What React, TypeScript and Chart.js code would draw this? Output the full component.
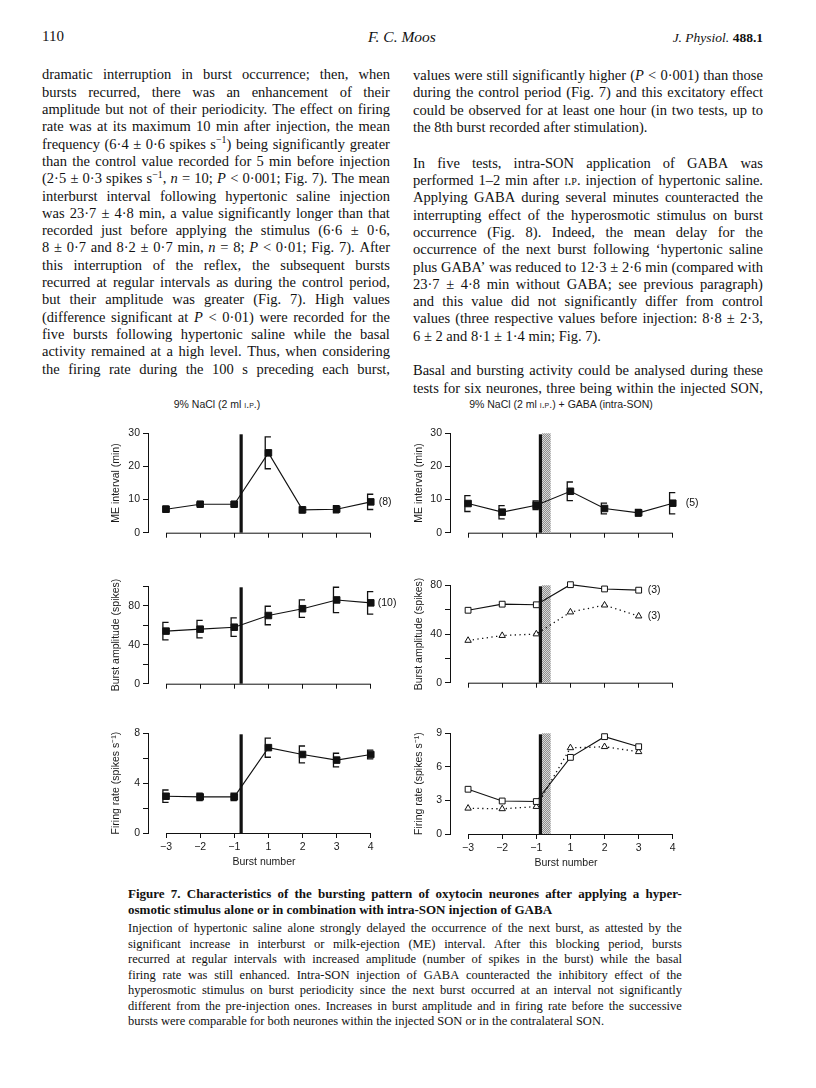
import React, { useEffect, useLayoutEffect, useRef } from 'react';
import { Chart, registerables } from 'chart.js';
Chart.register(...registerables);

const SERIF = '"Liberation Serif", "Times New Roman", serif';
const SANS = '"Liberation Sans", Arial, Helvetica, sans-serif';

// ---------------- chart data ----------------
const burstNumbers = ['−3', '−2', '−1', '1', '2', '3', '4'];

// 9% NaCl alone (left column of panels)
const meIntervalSaline = [7.1, 8.6, 8.6, 24.1, 6.9, 7.1, 9.3];
const meIntervalSalineErr = [0.9, 0.4, 0.8, 4.8, 0.9, 1.1, 2.3];
const burstAmpSaline = [54, 56, 58, 70, 77, 86, 83];
const burstAmpSalineErr = [9, 9, 9.5, 9.5, 9, 13, 11.5];
const firingSaline = [2.95, 2.9, 2.9, 6.85, 6.3, 5.85, 6.3];
const firingSalineErr = [0.5, 0.3, 0.3, 0.77, 0.68, 0.55, 0.35];

// 9% NaCl + GABA intra-SON (right column of panels)
const meIntervalGaba = [8.8, 6.2, 8.3, 12.5, 7.3, 6.0, 8.9];
const meIntervalGabaErr = [2.4, 2.0, 1.3, 2.8, 1.6, 1.0, 3.2];
const burstAmpGabaInjected = [59.5, 64.5, 64, 80.5, 77, 76];
const burstAmpGabaContra = [34.7, 38.7, 40, 58, 63.7, 54.7];
const firingGabaInjected = [4.0, 2.95, 2.9, 6.85, 8.7, 7.8];
const firingGabaContra = [2.3, 2.25, 2.45, 7.7, 7.8, 7.35];

// stimulus timing (in burst-index units, between −1 and 1)
const stimulusSaline = [2.2];
const stimulusGaba = [2.12];
const gabaApplication = [2.17, 2.42];

const yTicksME = [0, 10, 20, 30];
const yLabelsME = [0, 10, 20, 30];
const yTicksAmpSaline = [0, 20, 40, 60, 80, 100];
const yLabelsAmpSaline = [0, 40, 80];
const yTicksAmpGaba = [0, 20, 40, 60, 80];
const yLabelsAmpGaba = [0, 40, 80];
const yTicksRateSaline = [0, 2, 4, 6, 8];
const yLabelsRateSaline = [0, 4, 8];
const yTicksRateGaba = [0, 3, 6, 9];
const yLabelsRateGaba = [0, 3, 6, 9];

// ---------------- page text ----------------
const leftColumnLines = [
  'dramatic interruption in burst occurrence; then, when',
  'bursts recurred, there was an enhancement of their',
  'amplitude but not of their periodicity. The effect on firing',
  'rate was at its maximum 10 min after injection, the mean',
  'frequency (6·4 ± 0·6 spikes s^−1^) being significantly greater',
  'than the control value recorded for 5 min before injection',
  '(2·5 ± 0·3 spikes s^−1^, *n* = 10; *P* < 0·001; Fig. 7). The mean',
  'interburst interval following hypertonic saline injection',
  'was 23·7 ± 4·8 min, a value significantly longer than that',
  'recorded just before applying the stimulus (6·6 ± 0·6,',
  '8 ± 0·7 and 8·2 ± 0·7 min, *n* = 8; *P* < 0·01; Fig. 7). After',
  'this interruption of the reflex, the subsequent bursts',
  'recurred at regular intervals as during the control period,',
  'but their amplitude was greater (Fig. 7). High values',
  '(difference significant at *P* < 0·01) were recorded for the',
  'five bursts following hypertonic saline while the basal',
  'activity remained at a high level. Thus, when considering',
  'the firing rate during the 100 s preceding each burst,',
];

const rightColumnLines = [
  'values were still significantly higher (*P* < 0·001) than those',
  'during the control period (Fig. 7) and this excitatory effect',
  'could be observed for at least one hour (in two tests, up to',
  '|the 8th burst recorded after stimulation).',
  'In five tests, intra-SON application of GABA was',
  'performed 1–2 min after {i.p.} injection of hypertonic saline.',
  'Applying GABA during several minutes counteracted the',
  'interrupting effect of the hyperosmotic stimulus on burst',
  'occurrence (Fig. 8). Indeed, the mean delay for the',
  'occurrence of the next burst following ‘hypertonic saline',
  'plus GABA’ was reduced to 12·3 ± 2·6 min (compared with',
  '23·7 ± 4·8 min without GABA; see previous paragraph)',
  'and this value did not significantly differ from control',
  'values (three respective values before injection: 8·8 ± 2·3,',
  '|6 ± 2 and 8·1 ± 1·4 min; Fig. 7).',
  'Basal and bursting activity could be analysed during these',
  'tests for six neurones, three being within the injected SON,',
];

const captionTitleLines = [
  'Figure 7. Characteristics of the bursting pattern of oxytocin neurones after applying a hyper-',
  '|osmotic stimulus alone or in combination with intra-SON injection of GABA',
];

const captionBodyLines = [
  'Injection of hypertonic saline alone strongly delayed the occurrence of the next burst, as attested by the',
  'significant increase in interburst or milk-ejection (ME) interval. After this blocking period, bursts',
  'recurred at regular intervals with increased amplitude (number of spikes in the burst) while the basal',
  'firing rate was still enhanced. Intra-SON injection of GABA counteracted the inhibitory effect of the',
  'hyperosmotic stimulus on burst periodicity since the next burst occurred at an interval not significantly',
  'different from the pre-injection ones. Increases in burst amplitude and in firing rate before the successive',
  '|bursts were comparable for both neurones within the injected SON or in the contralateral SON.',
];

// ---------------- layout (positions only) ----------------
const leftLineY = leftColumnLines.map((_, i) => 76.7 + 17.3 * i);
const rightLineY = [77.3, 94.6, 111.9, 129.2, 165, 182.3, 199.6, 216.9, 234.2, 251.5, 268.8, 286.1, 303.4, 320.7, 338, 372.7, 390];
const captionTitleY = [895, 911];
const captionBodyY = [930, 945.5, 961, 976.5, 992, 1007.5, 1023];

type Marker = 'filledSquare' | 'openSquare' | 'triangle';
interface SeriesSpec { values: number[]; errors?: number[]; marker: Marker; dotted?: boolean; note?: string }
interface PanelSpec {
  yTitle: string; yMax: number; yTicks: number[]; yLabels: number[];
  series: SeriesSpec[]; stimulus: number; shade?: number[]; noteDx: number;
  showX: boolean;
  box: { x: number; y: number; w: number; h: number; yWidth: number };
}

const panels: PanelSpec[] = [
  {
    yTitle: 'ME interval (min)', yMax: 30, yTicks: yTicksME, yLabels: yLabelsME,
    series: [{ values: meIntervalSaline, errors: meIntervalSalineErr, marker: 'filledSquare', note: '(8)' }],
    stimulus: stimulusSaline[0], noteDx: 8, showX: false,
    box: { x: 106, y: 424, w: 304, h: 118, yWidth: 42 },
  },
  {
    yTitle: 'Burst amplitude (spikes)', yMax: 100, yTicks: yTicksAmpSaline, yLabels: yLabelsAmpSaline,
    series: [{ values: burstAmpSaline, errors: burstAmpSalineErr, marker: 'filledSquare', note: '(10)' }],
    stimulus: stimulusSaline[0], noteDx: 7, showX: false,
    box: { x: 106, y: 577, w: 304, h: 116, yWidth: 42 },
  },
  {
    yTitle: 'Firing rate (spikes s⁻¹)', yMax: 8, yTicks: yTicksRateSaline, yLabels: yLabelsRateSaline,
    series: [{ values: firingSaline, errors: firingSalineErr, marker: 'filledSquare' }],
    stimulus: stimulusSaline[0], noteDx: 8, showX: true,
    box: { x: 106, y: 724, w: 304, h: 144, yWidth: 42 },
  },
  {
    yTitle: 'ME interval (min)', yMax: 30, yTicks: yTicksME, yLabels: yLabelsME,
    series: [{ values: meIntervalGaba, errors: meIntervalGabaErr, marker: 'filledSquare', note: '(5)' }],
    stimulus: stimulusGaba[0], shade: gabaApplication, noteDx: 13, showX: false,
    box: { x: 409, y: 424, w: 303, h: 118, yWidth: 41 },
  },
  {
    yTitle: 'Burst amplitude (spikes)', yMax: 80, yTicks: yTicksAmpGaba, yLabels: yLabelsAmpGaba,
    series: [
      { values: burstAmpGabaInjected, marker: 'openSquare', note: '(3)' },
      { values: burstAmpGabaContra, marker: 'triangle', dotted: true, note: '(3)' },
    ],
    stimulus: stimulusGaba[0], shade: gabaApplication, noteDx: 9, showX: false,
    box: { x: 409, y: 576, w: 303, h: 116, yWidth: 41 },
  },
  {
    yTitle: 'Firing rate (spikes s⁻¹)', yMax: 9, yTicks: yTicksRateGaba, yLabels: yLabelsRateGaba,
    series: [
      { values: firingGabaInjected, marker: 'openSquare' },
      { values: firingGabaContra, marker: 'triangle', dotted: true },
    ],
    stimulus: stimulusGaba[0], shade: gabaApplication, noteDx: 9, showX: true,
    box: { x: 409, y: 724, w: 303, h: 145, yWidth: 41 },
  },
];

// ---------------- chart plugin ----------------
let shadePattern: CanvasPattern | null = null;
function getShade(ctx: CanvasRenderingContext2D) {
  if (!shadePattern) {
    const c = document.createElement('canvas');
    c.width = 2; c.height = 2;
    const g = c.getContext('2d')!;
    g.fillStyle = '#d8d8d8'; g.fillRect(0, 0, 2, 2);
    g.fillStyle = '#8e8e8e'; g.fillRect(0, 0, 1, 1); g.fillRect(1, 1, 1, 1);
    shadePattern = ctx.createPattern(c, 'repeat');
  }
  return shadePattern;
}

const figureMarks = {
  id: 'figureMarks',
  beforeDatasetsDraw(chart: any, _args: any, opts: any) {
    const { ctx, chartArea: a, scales: { x, y } } = chart;
    ctx.save();
    ctx.strokeStyle = '#111';
    ctx.lineWidth = 1;
    // x axis line from first to last burst
    ctx.beginPath();
    ctx.moveTo(x.getPixelForValue(0), a.bottom + 0.5);
    ctx.lineTo(x.getPixelForValue(burstNumbers.length - 1), a.bottom + 0.5);
    ctx.stroke();
    const bx = x.getPixelForValue(opts.stimulus);
    const bw = 3.2;
    if (opts.shade) {
      const s0 = bx + bw / 2;
      const s1 = x.getPixelForValue(opts.shade[1]);
      ctx.fillStyle = getShade(ctx);
      ctx.fillRect(s0, a.top, s1 - s0, a.bottom - a.top);
    }
    ctx.fillStyle = '#111';
    ctx.fillRect(bx - bw / 2, a.top + 1, bw, a.bottom - a.top - 1);
    // error brackets
    ctx.lineWidth = 1.3;
    chart.data.datasets.forEach((ds: any) => {
      if (!ds.errors) return;
      ds.data.forEach((p: any, i: number) => {
        const e = ds.errors[i];
        const cx = x.getPixelForValue(p.x);
        const y1 = y.getPixelForValue(p.y + e);
        const y2 = y.getPixelForValue(p.y - e);
        ctx.beginPath();
        ctx.moveTo(cx + 2.5, y1);
        ctx.lineTo(cx - 3.2, y1);
        ctx.lineTo(cx - 3.2, y2);
        ctx.lineTo(cx + 2.5, y2);
        ctx.stroke();
      });
    });
    ctx.restore();
  },
  afterDatasetsDraw(chart: any, _args: any, opts: any) {
    const { ctx, scales: { x, y } } = chart;
    ctx.save();
    ctx.fillStyle = '#111';
    ctx.font = `10.5px ${SANS}`;
    ctx.textAlign = 'left';
    ctx.textBaseline = 'middle';
    chart.data.datasets.forEach((ds: any) => {
      if (!ds.note) return;
      const last = ds.data[ds.data.length - 1];
      ctx.fillText(ds.note, x.getPixelForValue(last.x) + opts.noteDx, y.getPixelForValue(last.y));
    });
    ctx.restore();
  },
};

function makeConfig(p: PanelSpec): any {
  const font = { family: SANS, size: 10.5 };
  const idx = burstNumbers.map((_, i) => i);
  return {
    type: 'line',
    data: {
      datasets: p.series.map((s) => ({
        data: s.values.map((v, i) => ({ x: i, y: v })),
        errors: s.errors,
        note: s.note,
        borderColor: '#111',
        borderWidth: s.dotted ? 1.3 : 1.1,
        borderDash: s.dotted ? [1.3, 3.4] : [],
        pointStyle: s.marker === 'triangle' ? 'triangle' : 'rect',
        pointRadius: s.marker === 'filledSquare' ? 4.6 : s.marker === 'openSquare' ? 4.1 : 3.7,
        pointBackgroundColor: s.marker === 'filledSquare' ? '#111' : '#fff',
        pointBorderColor: '#111',
        pointBorderWidth: 1,
        fill: false,
        tension: 0,
        clip: false,
      })),
    },
    options: {
      animation: false,
      responsive: false,
      maintainAspectRatio: false,
      events: [],
      layout: { padding: { top: 8, right: p.box.x + p.box.w - (p.box.x + p.box.yWidth + 232), left: 0, bottom: 0 } },
      plugins: {
        legend: { display: false },
        tooltip: { enabled: false },
        figureMarks: { stimulus: p.stimulus, shade: p.shade, noteDx: p.noteDx },
      },
      scales: {
        x: {
          type: 'linear',
          min: -0.53,
          max: 6.27,
          border: { display: false },
          grid: { drawOnChartArea: false, drawTicks: true, tickLength: 5, color: '#111', lineWidth: 1 },
          afterBuildTicks: (s: any) => { s.ticks = idx.map((v) => ({ value: v })); },
          afterFit: (s: any) => { s.height = p.showX ? 35 : 8; },
          ticks: {
            display: p.showX,
            autoSkip: false,
            maxRotation: 0,
            padding: 3,
            font,
            color: '#1a1a1a',
            callback: (v: any) => burstNumbers[Math.round(v)] ?? '',
          },
          title: { display: p.showX, text: 'Burst number', font, color: '#1a1a1a', padding: 0 },
        },
        y: {
          type: 'linear',
          min: 0,
          max: p.yMax,
          border: { display: true, color: '#111', width: 1 },
          grid: { drawOnChartArea: false, drawTicks: true, tickLength: 5, color: '#111', lineWidth: 1 },
          afterBuildTicks: (s: any) => { s.ticks = p.yTicks.map((v) => ({ value: v })); },
          afterFit: (s: any) => { s.width = p.box.yWidth; },
          ticks: {
            padding: 3,
            font,
            color: '#1a1a1a',
            callback: (v: any) => (p.yLabels.includes(v) ? String(v) : ''),
          },
          title: { display: true, text: p.yTitle, font, color: '#1a1a1a', padding: { top: 4, bottom: 0 } },
        },
      },
    },
    plugins: [figureMarks],
  };
}

function Panel({ spec }: { spec: PanelSpec }) {
  const ref = useRef<HTMLCanvasElement>(null);
  useEffect(() => {
    const chart = new Chart(ref.current!, makeConfig(spec));
    return () => chart.destroy();
  }, [spec]);
  const b = spec.box;
  return (
    <canvas
      ref={ref}
      width={b.w}
      height={b.h}
      style={{ position: 'absolute', left: b.x, top: b.y, width: b.w, height: b.h }}
    />
  );
}

// ---------------- text helpers ----------------
function renderWord(w: string, key: number) {
  const parts = w.split(/(\*[^*]+\*|\^[^^]+\^|\{[^}]+\})/).filter(Boolean);
  return (
    <span key={key} style={{ flexShrink: 0 }}>
      {parts.map((pt, i) => {
        if (pt.startsWith('*')) return <i key={i}>{pt.slice(1, -1)}</i>;
        if (pt.startsWith('^'))
          return (
            <span key={i} style={{ fontSize: '0.68em', position: 'relative', top: '-0.55em' }}>
              {pt.slice(1, -1)}
            </span>
          );
        if (pt.startsWith('{'))
          return <span key={i} style={{ fontVariant: 'small-caps' }}>{pt.slice(1, -1)}</span>;
        return <React.Fragment key={i}>{pt}</React.Fragment>;
      })}
    </span>
  );
}

function TextLine(props: { text: string; left: number; cy: number; width: number; size: number; bold?: boolean; lh: number }) {
  const ref = useRef<HTMLDivElement>(null);
  const ragged = props.text.startsWith('|');
  const txt = ragged ? props.text.slice(1) : props.text;
  const gap = props.size * (ragged ? 0.25 : 0.18);
  useLayoutEffect(() => {
    const el = ref.current;
    if (!el) return;
    el.style.width = props.width + 'px';
    el.style.transform = '';
    let natural = 0;
    const kids = Array.from(el.children) as HTMLElement[];
    kids.forEach((k) => { natural += k.getBoundingClientRect().width; });
    natural += gap * (kids.length - 1);
    if (natural > props.width) {
      el.style.width = natural + 'px';
      el.style.transform = `scaleX(${props.width / natural})`;
    }
  }, [txt, props.width]);
  const words = txt.split(' ');
  return (
    <div
      ref={ref}
      style={{
        position: 'absolute',
        left: props.left,
        top: props.cy - props.lh,
        width: props.width,
        display: 'flex',
        justifyContent: ragged ? 'flex-start' : 'space-between',
        columnGap: gap,
        whiteSpace: 'nowrap',
        transformOrigin: '0 0',
        fontFamily: SERIF,
        fontSize: props.size,
        fontWeight: props.bold ? 700 : 400,
        lineHeight: 1.2,
        color: '#111',
      }}
    >
      {words.map((w, i) => renderWord(w, i))}
    </div>
  );
}

export default function App() {
  return (
    <div style={{ position: 'absolute', left: 0, top: 0, width: 816, height: 1088, background: '#fff', overflow: 'hidden' }}>
      {/* running header */}
      <div style={{ position: 'absolute', left: 42, top: 29, fontFamily: SERIF, fontSize: 15, lineHeight: 1, color: '#111' }}>110</div>
      <div style={{ position: 'absolute', left: 302, width: 200, top: 29, textAlign: 'center', fontFamily: SERIF, fontStyle: 'italic', fontSize: 15.5, lineHeight: 1, color: '#111' }}>F. C. Moos</div>
      <div style={{ position: 'absolute', left: 563, width: 200, top: 31, textAlign: 'right', fontFamily: SERIF, fontSize: 13.5, lineHeight: 1, color: '#111' }}>
        <i>J. Physiol.</i> <b>488.1</b>
      </div>

      {leftColumnLines.map((t, i) => (
        <TextLine key={'l' + i} text={t} left={42} cy={leftLineY[i]} width={348} size={14.5} lh={10.3} />
      ))}
      {rightColumnLines.map((t, i) => (
        <TextLine key={'r' + i} text={t} left={413} cy={rightLineY[i]} width={350} size={14.5} lh={10.3} />
      ))}

      {/* panel titles */}
      <div style={{ position: 'absolute', left: 117, width: 200, top: 398, textAlign: 'center', fontFamily: SANS, fontSize: 10.5, color: '#1a1a1a' }}>
        9% NaCl (2 ml <span style={{ fontVariant: 'small-caps' }}>i.p.</span>)
      </div>
      <div style={{ position: 'absolute', left: 411, width: 300, top: 398, textAlign: 'center', fontFamily: SANS, fontSize: 10.5, color: '#1a1a1a' }}>
        9% NaCl (2 ml <span style={{ fontVariant: 'small-caps' }}>i.p.</span>) + GABA (intra-SON)
      </div>

      {panels.map((p, i) => (
        <Panel key={i} spec={p} />
      ))}

      {captionTitleLines.map((t, i) => (
        <TextLine key={'ct' + i} text={t} left={128} cy={captionTitleY[i]} width={554} size={13} bold lh={9.3} />
      ))}
      {captionBodyLines.map((t, i) => (
        <TextLine key={'cb' + i} text={t} left={128} cy={captionBodyY[i]} width={554} size={12.5} lh={9} />
      ))}
    </div>
  );
}
